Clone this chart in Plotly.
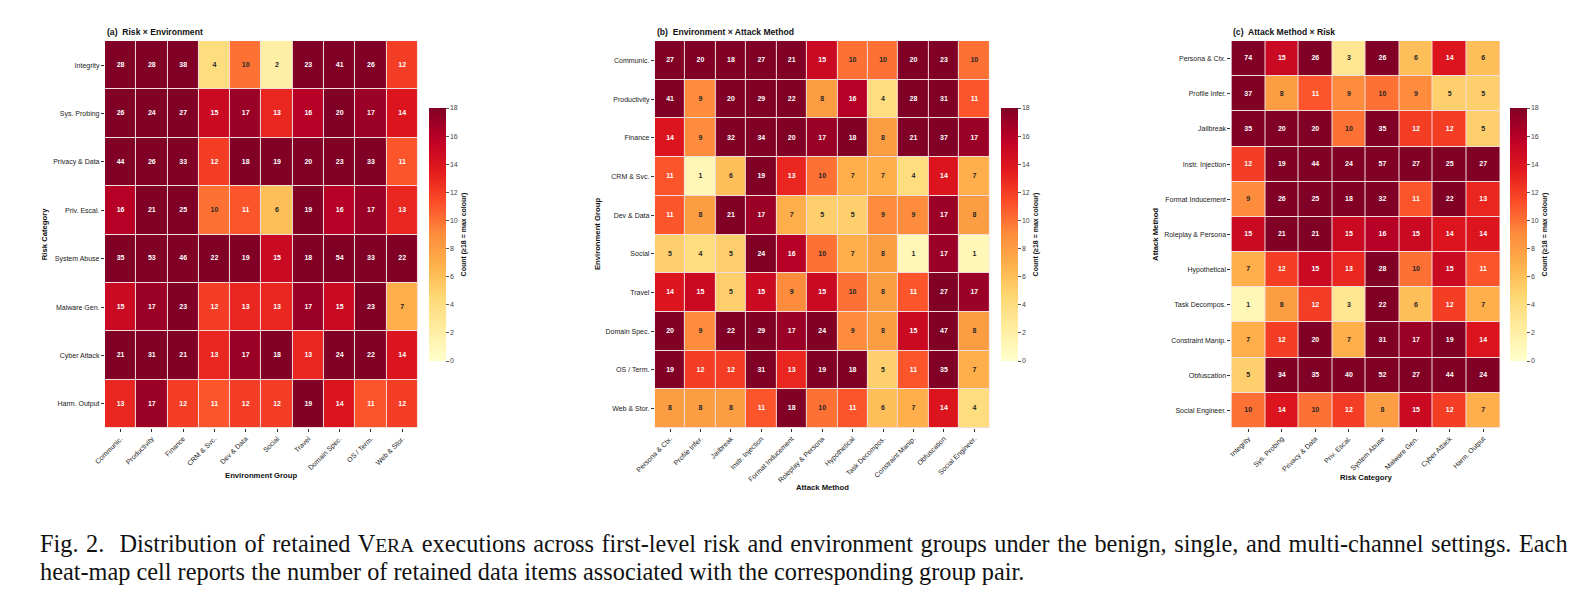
import plotly.graph_objects as go

# ---------------- data ----------------
risk = ["Integrity", "Sys. Probing", "Privacy & Data", "Priv. Escal.", "System Abuse",
        "Malware Gen.", "Cyber Attack", "Harm. Output"]
env = ["Communic.", "Productivity", "Finance", "CRM & Svc.", "Dev & Data", "Social",
       "Travel", "Domain Spec.", "OS / Term.", "Web & Stor."]
attack = ["Persona & Ctx.", "Profile Infer.", "Jailbreak", "Instr. Injection",
          "Format Inducement", "Roleplay & Persona", "Hypothetical", "Task Decompos.",
          "Constraint Manip.", "Obfuscation", "Social Engineer."]

# (a) rows = risk, cols = env
risk_env = [
    [28, 28, 38, 4, 10, 2, 23, 41, 26, 12],
    [26, 24, 27, 15, 17, 13, 16, 20, 17, 14],
    [44, 26, 33, 12, 18, 19, 20, 23, 33, 11],
    [16, 21, 25, 10, 11, 6, 19, 16, 17, 13],
    [35, 53, 46, 22, 19, 15, 18, 54, 33, 22],
    [15, 17, 23, 12, 13, 13, 17, 15, 23, 7],
    [21, 31, 21, 13, 17, 18, 13, 24, 22, 14],
    [13, 17, 12, 11, 12, 12, 19, 14, 11, 12],
]
# (b) rows = env, cols = attack
env_attack = [
    [27, 20, 18, 27, 21, 15, 10, 10, 20, 23, 10],
    [41, 9, 20, 29, 22, 8, 16, 4, 28, 31, 11],
    [14, 9, 32, 34, 20, 17, 18, 8, 21, 37, 17],
    [11, 1, 6, 19, 13, 10, 7, 7, 4, 14, 7],
    [11, 8, 21, 17, 7, 5, 5, 9, 9, 17, 8],
    [5, 4, 5, 24, 16, 10, 7, 8, 1, 17, 1],
    [14, 15, 5, 15, 9, 15, 10, 8, 11, 27, 17],
    [20, 9, 22, 29, 17, 24, 9, 8, 15, 47, 8],
    [19, 12, 12, 31, 13, 19, 18, 5, 11, 35, 7],
    [8, 8, 8, 11, 18, 10, 11, 6, 7, 14, 4],
]
# (c) rows = attack, cols = risk
attack_risk = [
    [74, 15, 26, 3, 26, 6, 14, 6],
    [37, 8, 11, 9, 10, 9, 5, 5],
    [35, 20, 20, 10, 35, 12, 12, 5],
    [12, 19, 44, 24, 57, 27, 25, 27],
    [9, 26, 25, 18, 32, 11, 22, 13],
    [15, 21, 21, 15, 16, 15, 14, 14],
    [7, 12, 15, 13, 28, 10, 15, 11],
    [1, 8, 12, 3, 22, 6, 12, 7],
    [7, 12, 20, 7, 31, 17, 19, 14],
    [5, 34, 35, 40, 52, 27, 44, 24],
    [10, 14, 10, 12, 8, 15, 12, 7],
]

cbar_ticks = [0, 2, 4, 6, 8, 10, 12, 14, 16, 18]

# ---------------- styling ----------------
W, H = 1578, 599
def fx(px): return px / W
def fy(py): return 1 - py / H

YLORRD = [[0.0, "#ffffcc"], [0.125, "#ffeda0"], [0.25, "#fed976"], [0.375, "#feb24c"],
          [0.5, "#fd8d3c"], [0.625, "#fc4e2a"], [0.75, "#e31a1c"], [0.875, "#bd0026"],
          [1.0, "#800026"]]
SANS = "Liberation Sans, Arial, sans-serif"
SERIF = "Liberation Serif, Times New Roman, serif"

panels = [
    dict(z=risk_env, rows=risk, cols=env, xd=(86, 403), yd=(41, 428), cb=414,
         title="(a)  Risk × Environment", xt="Environment Group", xty=475,
         yt="Risk Category", ytx=25),
    dict(z=env_attack, rows=env, cols=attack, xd=(643, 982), yd=(41, 428), cb=994,
         title="(b)  Environment × Attack Method", xt="Attack Method", xty=487,
         yt="Environment Group", ytx=585),
    dict(z=attack_risk, rows=attack, cols=risk, xd=(1227, 1499), yd=(41, 428), cb=1509,
         title="(c)  Attack Method × Risk", xt="Risk Category", xty=477,
         yt="Attack Method", ytx=1150),
]

fig = go.Figure()
annotations = []
layout_axes = {}

for i, p in enumerate(panels):
    sfx = "" if i == 0 else str(i + 1)
    xa, ya = "x" + sfx, "y" + sfx
    fig.add_trace(go.Heatmap(
        z=p["z"], x=p["cols"], y=p["rows"], colorscale=YLORRD, zmin=0, zmax=18,
        xgap=1, ygap=1, xaxis=xa, yaxis=ya, hoverinfo="skip",
        colorbar=dict(
            x=fx(p["cb"]), xanchor="left", y=fy(234.5), yanchor="middle",
            len=253, lenmode="pixels", thickness=17, thicknessmode="pixels",
            xpad=0, ypad=0, outlinewidth=0,
            tickvals=cbar_ticks, ticks="outside", ticklen=3, tickwidth=1,
            tickcolor="#555", tickfont=dict(family=SANS, size=7, color="#444"),
            title=dict(text="<b>Count (≥18 = max colour)</b>", side="right",
                       font=dict(family=SANS, size=7, color="#111")),
        ),
    ))
    xs, ys, ts, cs = [], [], [], []
    for r, rname in enumerate(p["rows"]):
        for c, cname in enumerate(p["cols"]):
            v = p["z"][r][c]
            xs.append(cname); ys.append(rname); ts.append(f"<b>{v}</b>")
            cs.append("#ffffff" if v > 10 else "#262626")
    fig.add_trace(go.Scatter(
        x=xs, y=ys, text=ts, mode="text", textposition="middle center",
        textfont=dict(family=SANS, size=7, color=cs), xaxis=xa, yaxis=ya,
        hoverinfo="skip", showlegend=False,
    ))
    nc, nr = len(p["cols"]), len(p["rows"])
    layout_axes["xaxis" + sfx] = dict(
        domain=[fx(p["xd"][0]), fx(p["xd"][1])], anchor=ya, type="category",
        range=[-0.5, nc - 0.5], tickangle=-45, ticks="outside", ticklen=3,
        tickwidth=1, tickcolor="#333", showgrid=False, zeroline=False, showline=False,
        tickfont=dict(family=SANS, size=7, color="#222"), fixedrange=True,
    )
    layout_axes["yaxis" + sfx] = dict(
        domain=[fy(p["yd"][1]), fy(p["yd"][0])], anchor=xa, type="category",
        range=[nr - 0.5, -0.5], ticks="outside", ticklen=3, tickwidth=1,
        tickcolor="#333", showgrid=False, zeroline=False, showline=False,
        tickfont=dict(family=SANS, size=7, color="#222"), fixedrange=True,
    )
    annotations.append(dict(
        text="<b>" + p["title"] + "</b>", x=fx(p["xd"][0]), y=fy(32),
        xref="paper", yref="paper", xanchor="left", yanchor="middle", showarrow=False,
        font=dict(family=SANS, size=8.6, color="#111")))
    annotations.append(dict(
        text="<b>" + p["xt"] + "</b>", x=fx((p["xd"][0] + p["xd"][1]) / 2), y=fy(p["xty"]),
        xref="paper", yref="paper", xanchor="center", yanchor="middle", showarrow=False,
        font=dict(family=SANS, size=7.7, color="#111")))
    annotations.append(dict(
        text="<b>" + p["yt"] + "</b>", x=fx(p["ytx"]), y=fy(234.5), textangle=-90,
        xref="paper", yref="paper", xanchor="center", yanchor="middle", showarrow=False,
        font=dict(family=SERIF if False else SANS, size=7.7, color="#111")))

cap1 = ("<span style=\"word-spacing:1.5px\">Fig. 2.\u00a0\u00a0Distribution of retained "
        "V<span style=\"font-size:19.5px\">ERA</span> "
        "executions across first-level risk and environment groups under the benign, single, "
        "and multi-channel settings. Each</span>")
cap2 = ("heat-map cell reports the number of retained data items associated with the "
        "corresponding group pair.")
annotations.append(dict(text=cap1, x=fx(18), y=fy(543), xref="paper", yref="paper",
                        xanchor="left", yanchor="middle", showarrow=False,
                        font=dict(family=SERIF, size=24.3, color="#111")))
annotations.append(dict(text=cap2, x=fx(18), y=fy(571), xref="paper", yref="paper",
                        xanchor="left", yanchor="middle", showarrow=False,
                        font=dict(family=SERIF, size=24.3, color="#111")))

fig.update_layout(
    width=W, height=H, autosize=False, margin=dict(l=0, r=0, t=0, b=0),
    paper_bgcolor="white", plot_bgcolor="#f3dcdc", showlegend=False,
    annotations=annotations, **layout_axes,
)

fig.write_html("out.html")
